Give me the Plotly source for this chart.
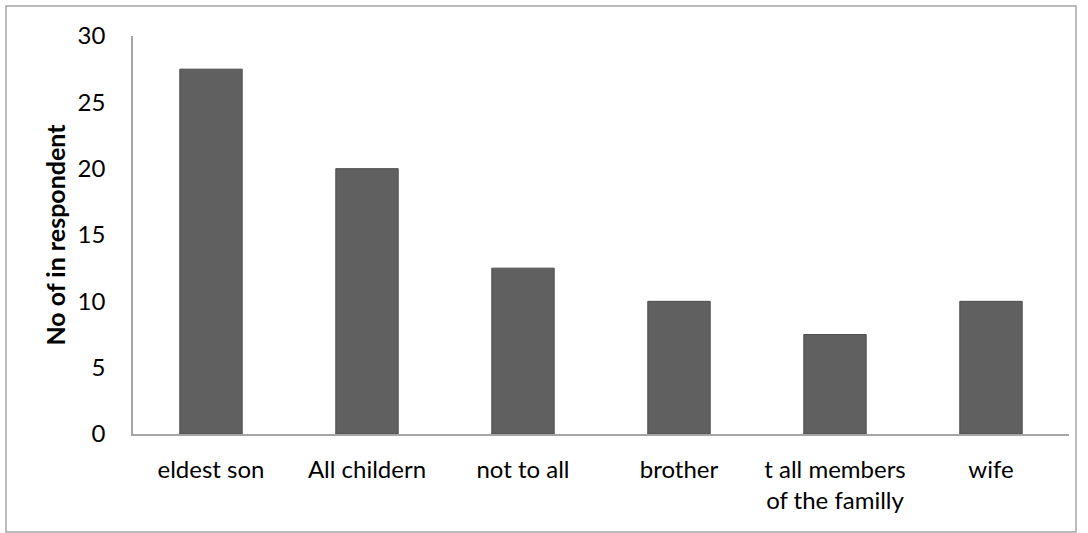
import plotly.graph_objects as go

categories = ["eldest son", "All childern", "not to all", "brother",
              "t all members<br>of the familly", "wife"]
values = [27.5, 20, 12.5, 10, 7.5, 10]
y_title = "No of in respondent"

W, H = 1088, 533
L, R, T, B = 133, 19, 36, 99
pw, ph = W - L - R, H - T - B

fig = go.Figure(go.Bar(
    x=categories, y=values, width=0.4,
    marker=dict(color="#606060", line=dict(color="#4d4d4d", width=1)),
))

fam = "Lato, 'Open Sans', sans-serif"
font = dict(family=fam, size=24, color="#000000")

fig.update_layout(
    width=W, height=H,
    margin=dict(l=L, r=R, t=T, b=B),
    paper_bgcolor="white", plot_bgcolor="white",
    font=font, showlegend=False,
    bargap=0.6,
    xaxis=dict(showline=True, linecolor="#a6a6a6", linewidth=1.5,
               showgrid=False, ticks="", tickfont=font, tickangle=0,
               ticklabelstandoff=13),
    yaxis=dict(range=[0, 30], dtick=5, showline=True, linecolor="#a6a6a6",
               linewidth=1.5, showgrid=False, ticks="", zeroline=False,
               tickfont=font, ticklabelstandoff=21,
               title=dict(text="<b>" + y_title + "</b>",
                          font=dict(family=fam, size=25, color="#000000"),
                          standoff=5)),
    shapes=[dict(type="rect", xref="paper", yref="paper",
                 x0=(6 - L) / pw, x1=(1076 - L) / pw,
                 y0=(T + ph - 532) / ph, y1=(T + ph - 6) / ph,
                 line=dict(color="#a6a6a6", width=1.5), fillcolor="rgba(0,0,0,0)")],
)

fig.write_html("out.html")
